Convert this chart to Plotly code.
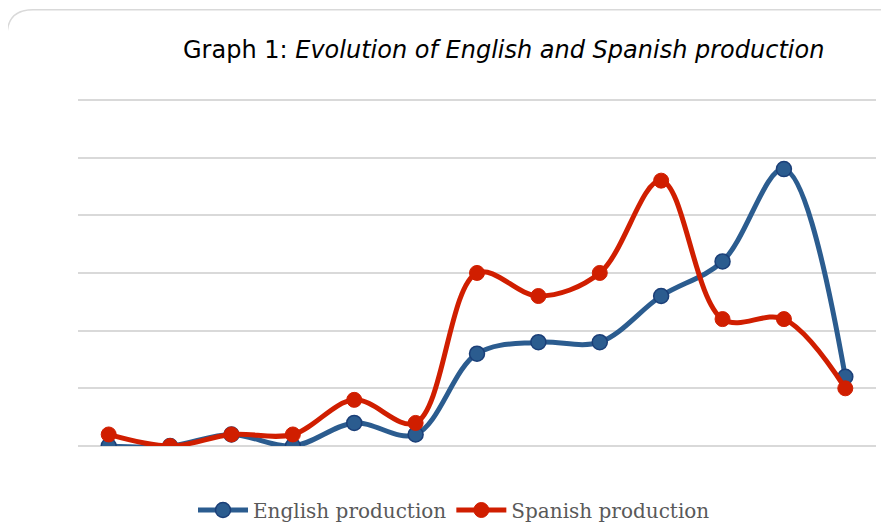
import plotly.graph_objects as go

# categories (no labels shown on the original axis)
periods = list(range(1, 14))
english = [0, 0, 0.2, 0, 0.4, 0.2, 1.6, 1.8, 1.8, 2.6, 3.2, 4.8, 1.2]
spanish = [0.2, 0, 0.2, 0.2, 0.8, 0.4, 3.0, 2.6, 3.0, 4.6, 2.2, 2.2, 1.0]

blue = "#2B5C8F"
blue_edge = "#1B3F78"
red = "#D01E00"

fig = go.Figure()

fig.add_trace(go.Scatter(
    x=periods, y=english, name="English production",
    mode="lines+markers",
    line=dict(color=blue, width=5, shape="spline", smoothing=1),
    marker=dict(size=15, color=blue, line=dict(color=blue_edge, width=1.5)),
))
fig.add_trace(go.Scatter(
    x=periods, y=spanish, name="Spanish production",
    mode="lines+markers",
    line=dict(color=red, width=5, shape="spline", smoothing=1),
    marker=dict(size=15, color=red, line=dict(color=red, width=1)),
))

# page body adds an 8px offset, so work in figure pixels = screen - 8
YMAX = 6.05
L, B0, PW = 70, 438, 798.0
PH = 346.0 * YMAX / 6
T = B0 - PH
def px(x): return (x - L) / PW
def py(y): return (B0 - y) / PH

# rounded chart frame, running off the right and bottom edges
r = 26
frame = (f"M {px(-1)},{py(900)} L {px(-1)},{py(2 + r)} "
         f"Q {px(-1)},{py(2)} {px(-1 + r)},{py(2)} L {px(1200)},{py(2)}")
fig.add_shape(type="path", path=frame, xref="paper", yref="paper",
              line=dict(color="#D9D9D9", width=1.5), layer="below")

fig.add_annotation(
    text="Graph 1: <i>Evolution of English and Spanish production</i>",
    x=px(495), y=py(42), xref="paper", yref="paper",
    xanchor="center", yanchor="middle",
    showarrow=False, font=dict(family="DejaVu Sans", size=24, color="#000000"),
)

fig.update_layout(
    width=889, height=525,
    margin=dict(l=L, r=889 - L - PW, t=T, b=525 - B0),
    paper_bgcolor="white", plot_bgcolor="white",
    showlegend=True,
    legend=dict(orientation="h", xref="container", yref="container",
                x=446 / 889, xanchor="center", y=1 - 502 / 525, yanchor="middle",
                font=dict(family="DejaVu Serif", size=20, color="#595959"),
                itemwidth=50, tracegroupgap=0),
)
fig.update_xaxes(range=[0.5, 13.5], showticklabels=False, showgrid=False,
                 zeroline=False, showline=False, ticks="")
fig.update_yaxes(range=[0, YMAX], dtick=1, showticklabels=False, showgrid=True,
                 gridcolor="#D9D9D9", gridwidth=1.5, zeroline=True,
                 zerolinecolor="#D9D9D9", zerolinewidth=1.5, ticks="")

fig.write_html("out.html")
